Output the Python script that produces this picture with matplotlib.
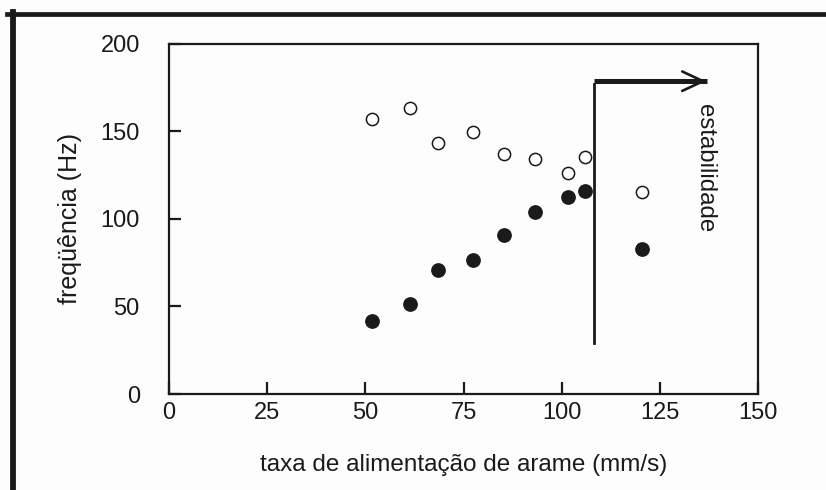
import matplotlib.pyplot as plt
from matplotlib.lines import Line2D

# taxa de alimentação de arame (mm/s) e frequências medidas (Hz)
taxa = [51.8, 61.4, 68.4, 77.4, 85.2, 93.3, 101.6, 106.0, 120.5]
freq_aberto = [157, 163, 143, 149.5, 137, 134, 126, 135.5, 115.5]
freq_cheio = [41.5, 51.5, 70.5, 76.5, 91, 104, 112.5, 116, 83]

x_ticks = [0, 25, 50, 75, 100, 125, 150]
y_ticks = [0, 50, 100, 150, 200]

# limite de estabilidade
x_limite = 108.2
y_seta = 178.5
x_seta_fim = 137.5

plt.rcParams['font.family'] = ['Liberation Sans', 'DejaVu Sans']
cor = '#1a1a1a'

fig = plt.figure(figsize=(8.26, 4.9), dpi=100)
fig.patch.set_facecolor('#fdfdfd')
ax = fig.add_axes([0.2046, 0.1959, 0.7131, 0.7153])
ax.set_facecolor('#fdfdfd')

ax.plot(taxa, freq_aberto, 'o', ms=8.8, mfc='white', mec=cor, mew=1.1, ls='none')
ax.plot(taxa, freq_cheio, 'o', ms=9.6, mfc=cor, mec=cor, ls='none')

ax.plot([x_limite, x_limite], [29, 177], color=cor, lw=2.0)
ax.plot([x_limite, x_seta_fim - 0.5], [y_seta, y_seta], color=cor, lw=3.6, solid_capstyle='butt')
ax.annotate('', xy=(x_seta_fim, y_seta), xytext=(x_seta_fim - 10, y_seta),
            arrowprops=dict(arrowstyle='->, head_length=1.5, head_width=0.7', color=cor, lw=1.9))
ax.text(136.5, 129, 'estabilidade', rotation=-90, ha='center', va='center',
        fontsize=17.3, color=cor)

ax.set_xlim(0, 150)
ax.set_ylim(0, 200)
ax.set_xticks(x_ticks)
ax.set_yticks(y_ticks)
ax.tick_params(direction='in', length=8.5, width=1.6, color=cor, labelsize=17, labelcolor=cor)
ax.tick_params(axis='y', pad=21)
ax.tick_params(axis='x', pad=6)
for s in ax.spines.values():
    s.set_linewidth(1.6)
    s.set_color(cor)

ax.set_xlabel('taxa de alimentação de arame (mm/s)', fontsize=17.5, color=cor, labelpad=21)
ax.set_ylabel('freqüência (Hz)', fontsize=18, color=cor, labelpad=13)

# moldura externa (topo e lado esquerdo)
fig.add_artist(Line2D([7 / 826, 825 / 826], [1 - 14 / 490, 1 - 14 / 490], color=cor, lw=3.4))
fig.add_artist(Line2D([13 / 826, 13 / 826], [1 - 12 / 490, 0], color=cor, lw=4.2))

fig.savefig('out.png', dpi=100, facecolor=fig.get_facecolor())
